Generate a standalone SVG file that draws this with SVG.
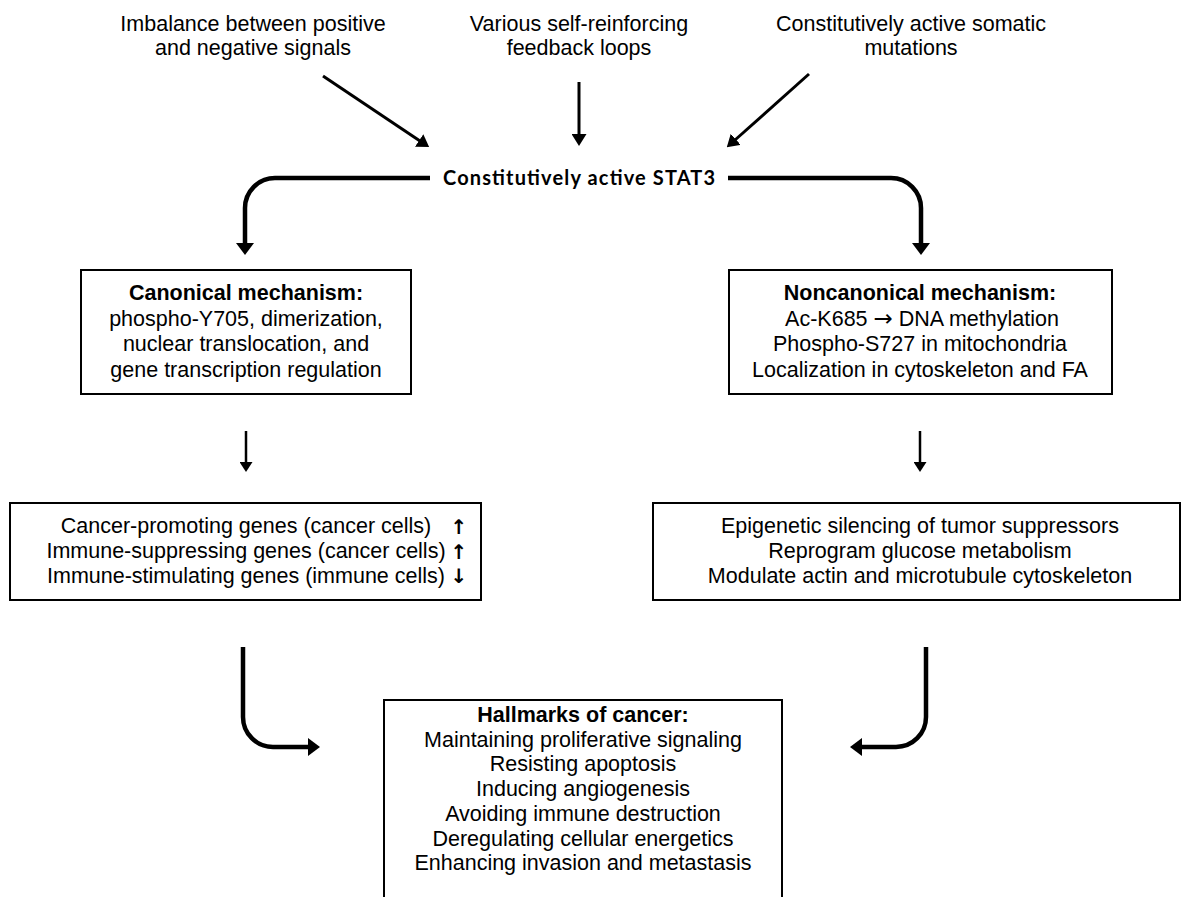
<svg xmlns="http://www.w3.org/2000/svg" width="1182" height="897" viewBox="0 0 1182 897">
<defs>
<style>
text{font-family:"Liberation Sans",Arial,sans-serif;font-size:21.5px;fill:#000;text-anchor:middle}
.b{font-weight:bold}
.stat{font-family:Lato,"Liberation Sans",sans-serif;font-weight:bold;font-size:20px}
.arr{font-family:"DejaVu Sans",sans-serif;font-weight:bold;font-size:20px}
.box{fill:#fff;stroke:#000;stroke-width:2}
.thin{fill:none;stroke:#000;stroke-width:3}
.mid{fill:none;stroke:#000;stroke-width:2.5}
.thick{fill:none;stroke:#000;stroke-width:4.5}
</style>
<marker id="hBig" markerUnits="userSpaceOnUse" markerWidth="12" markerHeight="18" refX="1" refY="9" orient="auto"><path d="M0,0 L12,9 L0,18 Z" fill="#000"/></marker>
<marker id="hMid" markerUnits="userSpaceOnUse" markerWidth="12" markerHeight="15" refX="1" refY="7.5" orient="auto"><path d="M0,0 L12,7.5 L0,15 Z" fill="#000"/></marker>
<marker id="hSmall" markerUnits="userSpaceOnUse" markerWidth="10" markerHeight="13" refX="1" refY="6.5" orient="auto"><path d="M0,0 L10,6.5 L0,13 Z" fill="#000"/></marker>
</defs>
<rect width="1182" height="897" fill="#fff"/>

<g id="connectors">
<path class="thin" d="M323,76 L420,141" marker-end="url(#hMid)"/>
<path class="thin" d="M579,82 L579,135" marker-end="url(#hMid)"/>
<path class="thin" d="M809,74 L735,140" marker-end="url(#hMid)"/>
<path class="thick" d="M430,178 H275 A30,30 0 0 0 245,208 V244" marker-end="url(#hBig)"/>
<path class="thick" d="M728,178 H891 A30,30 0 0 1 921,208 V244" marker-end="url(#hBig)"/>
<path class="mid" d="M246,431 V463" marker-end="url(#hSmall)"/>
<path class="mid" d="M920,431 V463" marker-end="url(#hSmall)"/>
<path class="thick" d="M243,647 V717 A30,30 0 0 0 273,747 H309" marker-end="url(#hBig)"/>
<path class="thick" d="M926,647 V717 A30,30 0 0 1 896,747 H861" marker-end="url(#hBig)"/>
</g>

<g id="src-imbalance">
<text x="253" y="31">Imbalance between positive</text>
<text x="253" y="55">and negative signals</text>
</g>
<g id="src-feedback">
<text x="579" y="31">Various self-reinforcing</text>
<text x="579" y="55">feedback loops</text>
</g>
<g id="src-mutations">
<text x="911" y="31">Constitutively active somatic</text>
<text x="911" y="55">mutations</text>
</g>

<g id="stat3">
<text class="stat" x="579" y="185" textLength="272">Constitutively active STAT3</text>
</g>

<g id="canonical">
<rect class="box" x="81" y="270" width="330" height="124"/>
<text class="b" x="246" y="300">Canonical mechanism:</text>
<text x="246" y="325.5">phospho-Y705, dimerization,</text>
<text x="246" y="351">nuclear translocation, and</text>
<text x="246" y="376.5">gene transcription regulation</text>
</g>

<g id="noncanonical">
<rect class="box" x="729" y="270" width="383" height="124"/>
<text class="b" x="920" y="300">Noncanonical mechanism:</text>
<text x="922" y="325.5">Ac-K685 <tspan style="font-family:'DejaVu Sans',sans-serif;font-size:23px">→</tspan> DNA methylation</text>
<text x="920" y="351">Phospho-S727 in mitochondria</text>
<text x="920" y="376.5">Localization in cytoskeleton and FA</text>
</g>

<g id="genes-canonical">
<rect class="box" x="10" y="503" width="471" height="97"/>
<text x="246" y="533">Cancer-promoting genes (cancer cells)</text>
<text x="246" y="558">Immune-suppressing genes (cancer cells)</text>
<text x="246" y="583">Immune-stimulating genes (immune cells)</text>
<text class="arr" x="459" y="534">↑</text>
<text class="arr" x="459" y="559">↑</text>
<text class="arr" x="459" y="583">↓</text>
</g>

<g id="genes-noncanonical">
<rect class="box" x="653" y="503" width="527" height="97"/>
<text x="920" y="533">Epigenetic silencing of tumor suppressors</text>
<text x="920" y="558">Reprogram glucose metabolism</text>
<text x="920" y="583">Modulate actin and microtubule cytoskeleton</text>
</g>

<g id="hallmarks">
<rect class="box" x="384" y="700" width="398" height="210"/>
<text class="b" x="583" y="722">Hallmarks of cancer:</text>
<text x="583" y="746.7">Maintaining proliferative signaling</text>
<text x="583" y="771.4">Resisting apoptosis</text>
<text x="583" y="796.1">Inducing angiogenesis</text>
<text x="583" y="820.8">Avoiding immune destruction</text>
<text x="583" y="845.5">Deregulating cellular energetics</text>
<text x="583" y="870.2">Enhancing invasion and metastasis</text>
</g>
</svg>
